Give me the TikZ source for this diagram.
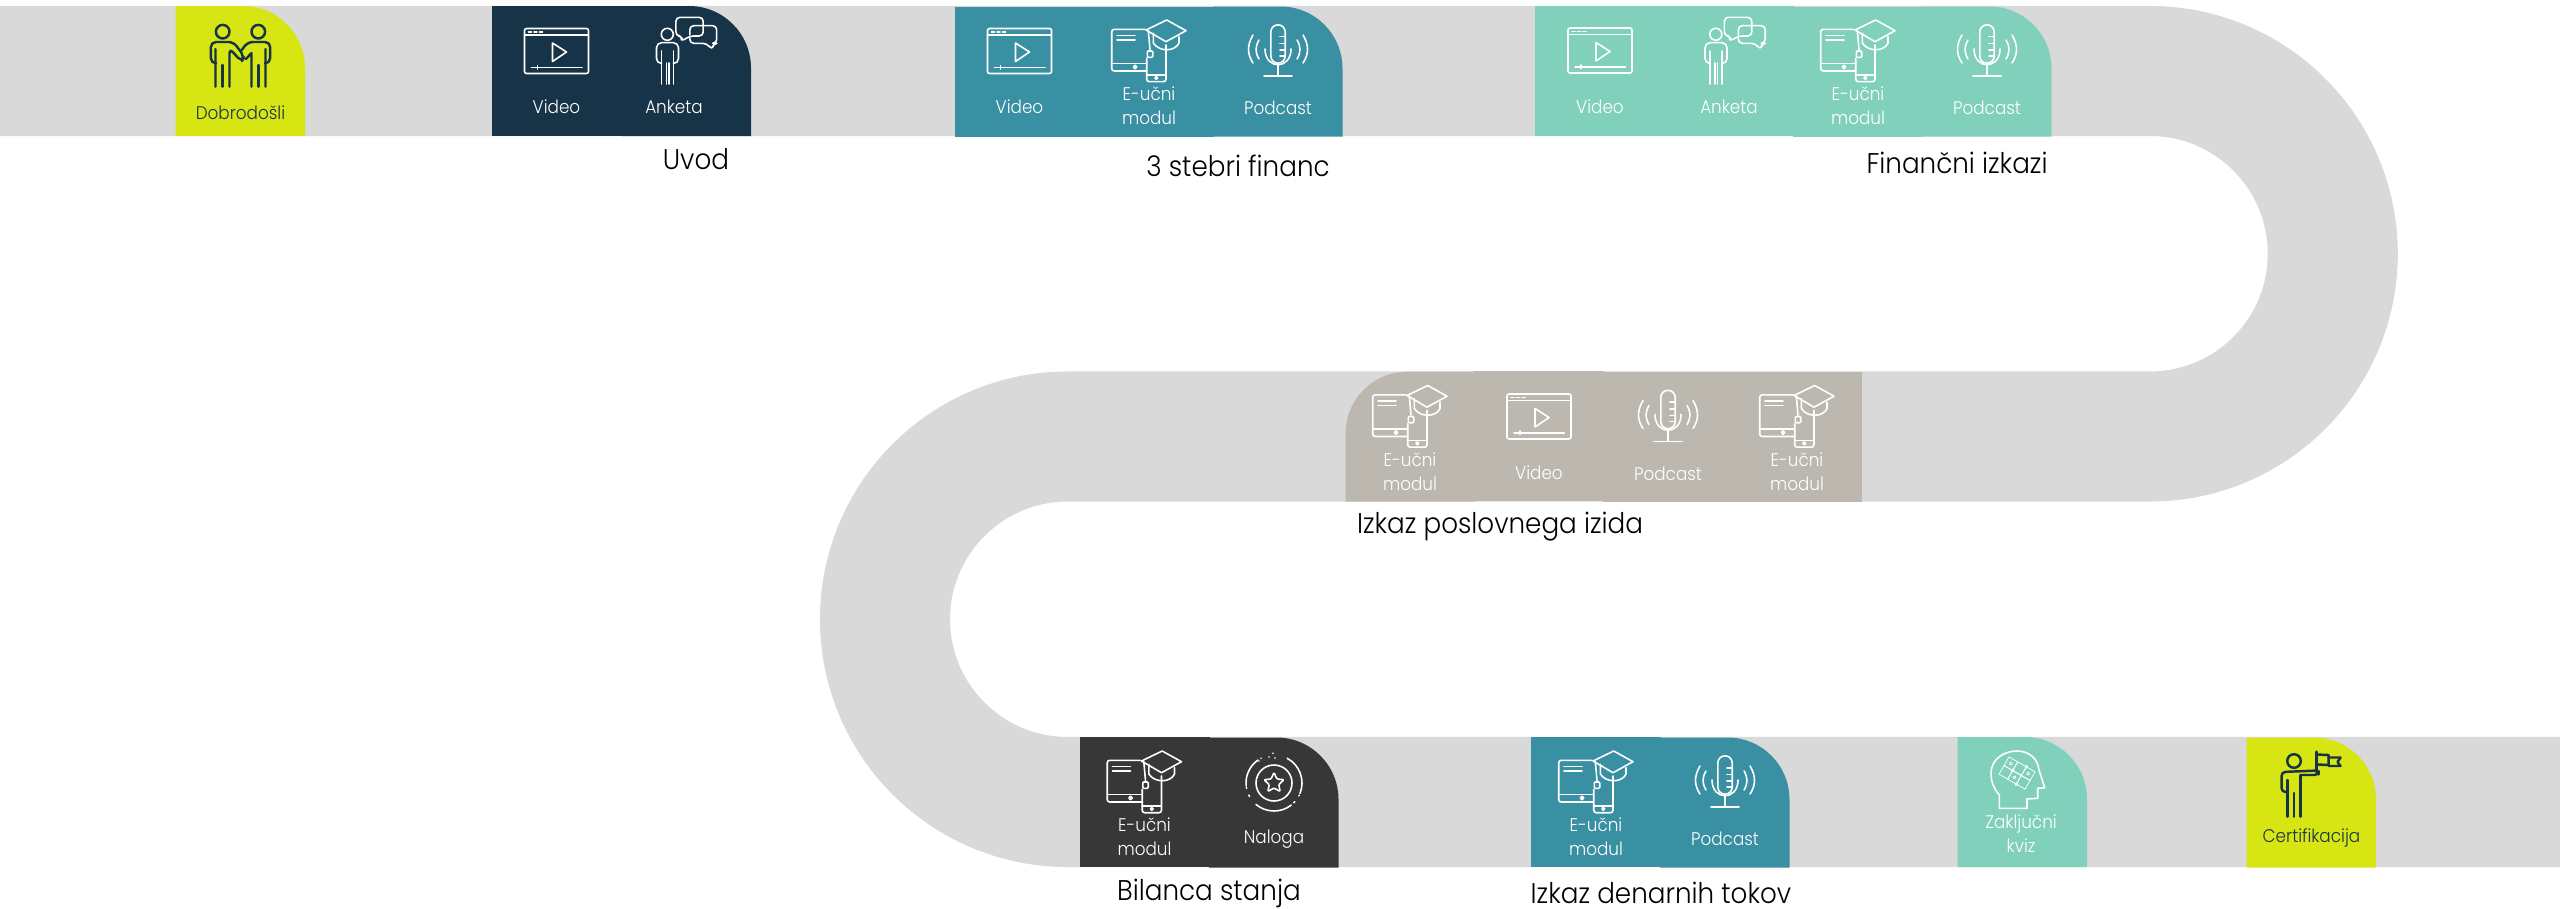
\documentclass[tikz,border=0pt]{standalone}
\usepackage{fontspec}
\setmainfont{Poppins}[UprightFont=* Light,FakeStretch=0.92]
\usetikzlibrary{calc,shapes.geometric,math}

\definecolor{track}{HTML}{D9D9D9}
\definecolor{lime}{HTML}{D7E612}
\definecolor{navy}{HTML}{173347}
\definecolor{teal}{HTML}{3890A2}
\definecolor{mint}{HTML}{81D0BC}
\definecolor{stone}{HTML}{BCB8B0}
\definecolor{coal}{HTML}{373737}

\begin{document}
\begin{tikzpicture}[
		x=0.01cm,y=-0.01cm,
		icon/.style={line width=0.45pt,line join=round,line cap=round},
		boldicon/.style={line width=0.7pt,line join=round,line cap=round},
		tiletext/.style={font=\fontsize{5.2}{6}\selectfont,align=center,inner sep=0pt},
		headline/.style={font=\fontsize{8.1}{10}\selectfont,text=black,inner sep=0pt},
		road/.style={draw=track,line width=1.3cm},
		%
		pics/plaintile/.style={code={
			\fill (-65,-65) rectangle (65,65);
		}},
		pics/righttile/.style={code={
			\fill (-65,65) -- (-65,-65) -- (2.5,-65) arc[start angle=-90,end angle=0,radius=62] -- (64.5,65) -- cycle;
		}},
		pics/lefttile/.style={code={
			\fill (65,65) -- (65,-65) -- (-2.5,-65) arc[start angle=-90,end angle=-180,radius=62] -- (-64.5,65) -- cycle;
		}},
		pics/video/.style={code={
			\draw[icon,rounded corners=0.2mm] (-32,-42.5) rectangle (32,2.5);
			\draw[icon] (-32,-36) -- (32,-36);
			\draw[icon] (-28,-39.2) -- (-25,-39.2) (-22.5,-39.2) -- (-19.5,-39.2) (-17,-39.2) -- (-14,-39.2);
			\draw[icon] (-4,-28) -- (10,-19) -- (-4,-9.5) -- cycle;
			\draw[icon] (-25,-3.7) -- (25.5,-3.7) (-19,-5.5) -- (-19,-2);
			\node[tiletext] (-label) at (0,36) {Video};
		}},
		pics/anketa/.style={code={
			\draw[icon] (-19.2,-36.7) circle[radius=6];
			\draw[icon,rounded corners=0.5mm] (-25,-7.5) -- (-30,-7.5) -- (-30,-28.3) -- (-8,-28.3) -- (-8,-7.5) -- (-13,-7.5);
			\draw[icon] (-25,-20) -- (-25,13) (-20,-8) -- (-20,13) (-17.5,-8) -- (-17.5,13) (-13,-20) -- (-13,13);
			\draw[icon,rounded corners=0.4mm] (-4,-35) -- (-10.6,-35) -- (-10.6,-53.7) -- (16.7,-53.7) -- (16.7,-35) -- (3.3,-35) -- (-5.7,-29.3) -- cycle;
			\draw[icon,rounded corners=0.4mm] (3.3,-36) -- (3.3,-45.3) -- (16.7,-45.3) (16.7,-45.3) -- (30.2,-45.3) -- (30.2,-27.7) -- (26.5,-27.7) -- (26,-21) -- (20,-27.7) -- (3.3,-27.7) -- (3.3,-33);
			\node[tiletext] (-label) at (#1,36) {Anketa};
		}},
		pics/modul/.style={code={
			\draw[icon,rounded corners=0.25mm] (-4,-41.7) -- (-37.3,-41.7) -- (-37.3,0) -- (-2.3,0);
			\draw[icon] (-37.3,-7.7) -- (-2.3,-7.7) (-32,-35.7) -- (-14,-35.7) (-32,-31) -- (-14,-31);
			\draw[icon] (-14,-4) circle[radius=1.7] (7.3,6.9) circle[radius=1.4];
			\draw[icon,rounded corners=0.25mm] (17,-26) -- (17,10.7) -- (-2.3,10.7) -- (-2.3,-12.7);
			\draw[icon] (-2.3,4) -- (17,4);
			\draw[icon] (-3,-41) -- (17.7,-51) -- (37,-40.3) -- (17,-29.3) -- cycle;
			\draw[icon] (4.3,-37.7) -- (4.3,-28) .. controls (10,-19) and (26,-19) .. (30,-28) -- (30,-34.3);
			\draw[icon] (-0.7,-40.3) -- (1,-21.5);
			\draw[icon,rounded corners=0.1mm] (-1.7,-20) -- (3.7,-20) -- (3.7,-13.7) -- (-1.7,-13.7) -- cycle;
			\node[tiletext] (-label) at (0,35) {E-učni\\[0.8pt]modul};
		}},
		pics/podcast/.style={code={
			\draw[icon] (-7.2,-39) arc[start angle=180,end angle=360,radius=7.2] -- (7.2,-15) arc[start angle=0,end angle=180,radius=7.2] -- cycle;
			\foreach \tick in {-34.3,-27.7,-21,-15}
				\draw[icon] (2,\tick) -- (7.2,\tick);
			\draw[icon] (-13,-22) .. controls (-13,-1) and (13,-1) .. (13,-22);
			\draw[icon] (0,-6) -- (0,5) (-14,5) -- (14,5);
			\foreach \side in {-1,1} {
				\draw[icon] (\side*19,-31) .. controls (\side*23,-24) and (\side*23,-19) .. (\side*19,-12);
				\draw[icon] (\side*25,-36) .. controls (\side*31,-26) and (\side*31,-17) .. (\side*25,-8);
			}
			\node[tiletext] (-label) at (0,37) {Podcast};
		}},
		pics/naloga/.style={code={
			\draw[icon] (0,-19) circle[radius=18];
			\node[draw,icon,star,star points=5,star point ratio=2.1,inner sep=0pt,minimum size=0.21cm,rounded corners=0.1mm] (-star) at (0,-19) {};
			\draw[icon] ([shift={(-62:28)}]0,-19) arc[start angle=-62,end angle=22,radius=28];
			\draw[icon] ([shift={(-125:28)}]0,-19) arc[start angle=-125,end angle=-185,radius=28];
			\draw[icon] ([shift={(130:28)}]0,-19) arc[start angle=130,end angle=52,radius=28];
			\draw[icon,dotted] ([shift={(172:28)}]0,-19) arc[start angle=172,end angle=142,radius=28];
			\draw[icon,dotted] ([shift={(45:28)}]0,-19) arc[start angle=45,end angle=26,radius=28];
			\foreach \px/\py in {-13/-43.7,-15/-41,-1/-48.7,1/-44,-5/-45}
				\fill (\px,\py) circle[radius=0.9];
			\node[tiletext] (-label) at (0,37) {Naloga};
		}},
		pics/dobrodosli/.style={code={
			\foreach \side in {-1,1} {
				\draw[boldicon] (\side*17.8,-39.3) circle[radius=6.8];
				\draw[boldicon] (\side*18,-6) -- (\side*18,15.7);
			}
			\draw[boldicon,rounded corners=0.5mm] (-25,-7.7) -- (-29.6,-7.7) -- (-29.6,-29) -- (-7,-29) -- (4,-14.3) -- (1,-9.3) -- (-11,-22.7) -- (-11,15.7);
			\draw[boldicon,rounded corners=0.5mm] (25,-7.7) -- (29.6,-7.7) -- (29.6,-29) -- (7.3,-29) -- (1.2,-21);
			\draw[boldicon] (-25,-22) -- (-25,15.7) (25,-22) -- (25,15.7) (11,-18) -- (11,15.7) (11,-18) -- (5.5,-12);
			\node[tiletext,text=navy] (-label) at (0,42) {Dobrodošli};
		}},
		pics/kviz/.style={code={
			\draw[icon] (-21.7,6.3) -- (-21.7,-7) .. controls (-27,-13) and (-30,-20) .. (-30,-28.7) .. controls (-30,-42) and (-18,-51) .. (-4,-51) .. controls (8,-51) and (17,-43) .. (17.7,-33) -- (23.7,-14.3) -- (16.7,-13.7) -- (16.7,-3.7) -- (6,-3) -- (6,6.3) -- cycle;
			\begin{scope}[shift={(-4,-29)},rotate=-30,line width=0.2pt]
				\foreach \cellx in {-1.5,-0.5,0.5} \foreach \celly in {-1,0}
					\draw (\cellx*10,\celly*10) rectangle +(10,10);
				\foreach \knobx/\knoby in {-10/-5,0/5,10/-5,-5/0,5/-10,5/10}
					\draw (\knobx,\knoby) circle[radius=1.5];
			\end{scope}
			\node[tiletext] (-label) at (0,32) {Zaključni\\[0.8pt]kviz};
		}},
		pics/certifikat/.style={code={
			\draw[boldicon] (-17.5,-41) circle[radius=6.8];
			\draw[boldicon,rounded corners=0.4mm] (-24.2,-10) -- (-30,-10) -- (-30,-30) -- (7,-31.5) -- (7,-27) -- (-10.8,-27);
			\draw[boldicon] (-24.2,-22) -- (-24.2,14.7) (-17.5,-9) -- (-17.5,14.7) (-10.8,-27) -- (-10.8,14.7) (5.2,-50.3) -- (5.2,-31.5);
			\draw[boldicon] (5.2,-47.5) -- (17,-47) -- (17,-37) -- (5.2,-37.5);
			\draw[boldicon] (17,-44.5) -- (29,-44.5) -- (26,-40) -- (29,-36) -- (17,-36) -- (17,-37);
			\node[tiletext,text=navy] (-label) at (0,36) {Certifikacija};
		}}%
	]
	\tikzmath{\rowa=71; \rowb=436.5; \rowc=802; \bend=182.75; \rightx=2150; \leftx=1067.75;
		\ca=556.5; \cb=686.5; \cc=1019.5; \cd=1149; \ce=1278;
	}
	\useasboundingbox (0,0) rectangle (2560,909);
	%
	\draw[road] (0,\rowa) -- (\rightx,\rowa) arc[start angle=-90,end angle=90,radius=\bend]
		-- (\leftx,\rowb) arc[start angle=-90,end angle=-270,radius=\bend] -- (2560,\rowc);
	%
	% first row
	\pic[color=lime] at (240.5,71) {righttile};
	\pic[color=navy] (welcome) at (240.5,71) {dobrodosli};
	\pic[color=navy] at (\ca,70.8) {plaintile};
	\pic[color=navy] at (\cb,71) {righttile};
	\pic[color=white] (uvodvideo) at (\ca,71) {video};
	\pic[color=white] (uvodanketa) at (\cb,71) {anketa=-12.5};
	\node[headline] (uvod) at (696,159) {Uvod};
	%
	\pic[color=teal] at (\cc,72) {plaintile};
	\pic[color=teal] at (\cd,72) {plaintile};
	\pic[color=teal] at (\ce,71.5) {righttile};
	\pic[color=white] (finvideo) at (\cc,71) {video};
	\pic[color=white] (finmodul) at (\cd,71) {modul};
	\pic[color=white] (finpodcast) at (\ce,71) {podcast};
	\node[headline] (stebri) at (1238,166) {3 stebri financ};
	%
	\pic[color=mint] at (1600,71) {plaintile};
	\pic[color=mint] at (1729,71) {plaintile};
	\pic[color=mint] at (1858,72) {plaintile};
	\pic[color=mint] at (1987,71.5) {righttile};
	\pic[color=white] (izvideo) at (1600,70.5) {video};
	\pic[color=white] (izanketa) at (1735,71) {anketa=-6};
	\pic[color=white] (izmodul) at (1858,71) {modul};
	\pic[color=white] (izpodcast) at (1987,71) {podcast};
	\node[headline] (izkazi) at (1957,163) {Finančni izkazi};
	%
	% second row
	\pic[color=stone] at (1410,436.7) {lefttile};
	\pic[color=stone] at (1539,436) {plaintile};
	\pic[color=stone] at (1668,437) {plaintile};
	\pic[color=stone] at (1796.5,437) {plaintile};
	\pic[color=white] (pizmodula) at (1410,436.5) {modul};
	\pic[color=white] (pizvideo) at (1539,436.5) {video};
	\pic[color=white] (pizpodcast) at (1668,436.5) {podcast};
	\pic[color=white] (pizmodulb) at (1797,436.5) {modul};
	\node[headline] (poslovni) at (1500,527) {Izkaz poslovnega izida};
	%
	% third row
	\pic[color=coal] at (1144.5,802) {plaintile};
	\pic[color=coal] at (1274,802.5) {righttile};
	\pic[color=white] (bilmodul) at (1144.5,802) {modul};
	\pic[color=white] (bilnaloga) at (1274,802) {naloga};
	\node[headline] (bilanca) at (1209,893) {Bilanca stanja};
	%
	\pic[color=teal] at (1596,802) {plaintile};
	\pic[color=teal] at (1725,802.5) {righttile};
	\pic[color=white] (denmodul) at (1596,802) {modul};
	\pic[color=white] (denpodcast) at (1725,802) {podcast};
	\node[headline] (denar) at (1661,893) {Izkaz denarnih tokov};
	%
	\pic[color=mint] at (2022.5,802) {righttile};
	\pic[color=white] (kvizblock) at (2021,802) {kviz};
	\pic[color=lime] at (2311.5,802.5) {righttile};
	\pic[color=navy] (certblock) at (2311.5,802) {certifikat};
\end{tikzpicture}
\end{document}
